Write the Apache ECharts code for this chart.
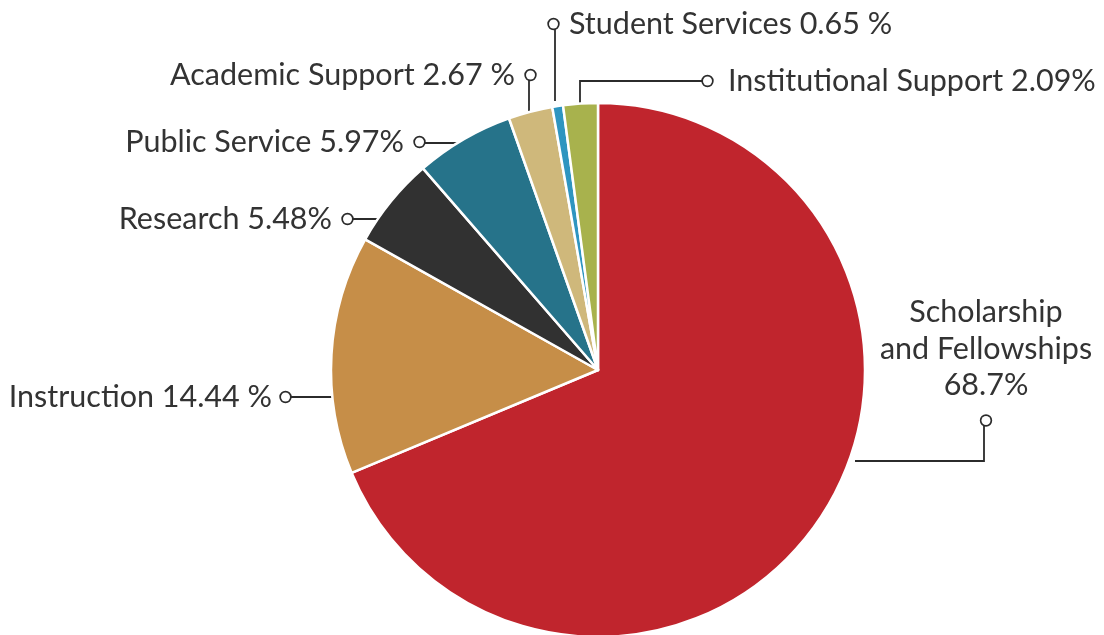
<!DOCTYPE html>
<html>
<head>
<meta charset="utf-8">
<script src="https://cdn.jsdelivr.net/npm/echarts@6/dist/echarts.min.js"></script>
<style>html,body{margin:0;padding:0;background:#fff}#c{width:1104px;height:635px}</style>
</head>
<body>
<div id="c"></div>
<script>
// ---- data ----
const categories = ['Scholarship\nand Fellowships', 'Instruction', 'Research', 'Public Service', 'Academic Support', 'Student Services', 'Institutional Support'];
const values = [68.7, 14.44, 5.48, 5.97, 2.67, 0.65, 2.09];
const valueLabels = ['68.7%', '14.44 %', '5.48%', '5.97%', '2.67 %', '0.65 %', '2.09%'];
const colors = ['#c0252d', '#c68e48', '#313131', '#26738a', '#cfb87b', '#2e95c0', '#a8b24d'];

// ---- label placement (annotation layout) ----
const labelLayouts = [
  { x: 986, y: 294, align: 'center', va: 'top', circle: 'below', gap: 0, line: [[855, 461], [984, 461], [984, 420]] },
  { x: 290, y: 397, align: 'right', va: 'middle', circle: 'right', gap: 'g1', line: [[336, 397], [284, 397]] },
  { x: 352, y: 219, align: 'right', va: 'middle', circle: 'right', gap: 'g2', line: [[397, 219], [346, 219]] },
  { x: 424, y: 142, align: 'right', va: 'middle', circle: 'right', gap: 'g2', line: [[470, 143], [418, 143]] },
  { x: 535, y: 75, align: 'right', va: 'middle', circle: 'right', gap: 'g2', line: [[529, 111], [529, 76]] },
  { x: 549, y: 24, align: 'left', va: 'middle', circle: 'left', gap: 'g2', line: [[555, 101], [555, 28]] },
  { x: 703, y: 81, align: 'left', va: 'middle', circle: 'left', gap: 'g3', line: [[580, 104], [580, 81], [708, 81]] }
];

const seriesData = categories.map((name, i) => ({
  name: name,
  value: values[i],
  itemStyle: { color: colors[i] }
}));

function fmt(p) {
  const i = p.dataIndex;
  const L = labelLayouts[i];
  const name = categories[i];
  const txt = name.replace('\n', ' ') + ' ' + valueLabels[i];
  if (L.circle === 'below') {
    return name.split('\n').map(s => '{t|' + s + '}').join('\n') + '\n{t|' + valueLabels[i] + '}\n{c|}';
  }
  const g = '{' + L.gap + '|}';
  if (L.circle === 'right') return '{t|' + txt + '}' + g + '{c|}';
  return '{c|}' + g + '{t|' + txt + '}';
}

const chart = echarts.init(document.getElementById('c'), null, { renderer: 'canvas' });
chart.setOption({
  backgroundColor: '#fff',
  animation: false,
  series: [{
    type: 'pie',
    center: [598, 370],
    radius: 267,
    startAngle: 90,
    clockwise: true,
    avoidLabelOverlap: false,
    data: seriesData,
    itemStyle: { borderColor: '#fff', borderWidth: 2.5 },
    emphasis: { disabled: true },
    label: {
      show: true,
      position: 'outside',
      formatter: fmt,
      rich: {
        t: { fontFamily: 'Lato', fontWeight: 400, fontSize: 30.5, color: '#333333', lineHeight: 36.5 },
        g1: { width: 9, height: 10 },
        g2: { width: 11, height: 10 },
        g3: { width: 16, height: 10 },
        c: { width: 9, height: 9, borderRadius: 6, borderColor: '#2b2b2b', borderWidth: 1.7, backgroundColor: '#fff', lineHeight: 34 }
      }
    },
    labelLine: { show: true, lineStyle: { color: '#2b2b2b', width: 1.8 } },
    labelLayout: function (params) {
      const L = labelLayouts[params.dataIndex];
      return {
        x: L.x, y: L.y, align: L.align, verticalAlign: L.va,
        labelLinePoints: L.line
      };
    }
  }]
});
</script>
</body>
</html>
